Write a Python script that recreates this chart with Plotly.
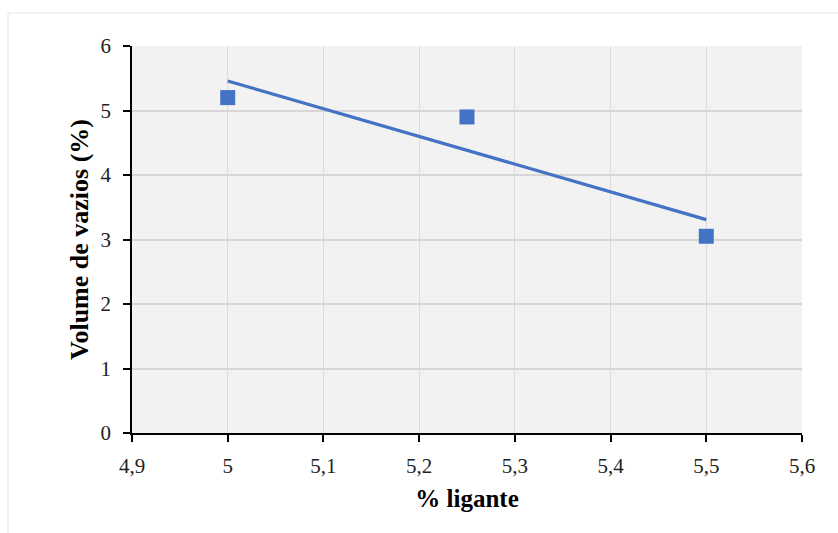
import numpy as np
import plotly.graph_objects as go

# Binder content (%) and measured air voids (%)
ligante = [5.0, 5.25, 5.5]
vazios = [5.2, 4.9, 3.05]

x_ticks = [4.9, 5.0, 5.1, 5.2, 5.3, 5.4, 5.5, 5.6]
y_ticks = [0, 1, 2, 3, 4, 5, 6]

# Linear trend line fitted to the measurements
slope, intercept = np.polyfit(ligante, vazios, 1)
trend_x = [min(ligante), max(ligante)]
trend_y = [slope * v + intercept for v in trend_x]

blue = "#4472c4"
font_family = "Liberation Serif"

fig = go.Figure()
fig.add_trace(go.Scatter(
    x=trend_x, y=trend_y, mode="lines",
    line=dict(color=blue, width=3.2), hoverinfo="skip", showlegend=False,
))
fig.add_trace(go.Scatter(
    x=ligante, y=vazios, mode="markers",
    marker=dict(symbol="square", size=15, color=blue),
    showlegend=False,
))

L, R, T, B = 132, 36, 46, 100
W, H = 838, 533
pw, ph = W - L - R, H - T - B

fig.update_layout(
    width=W, height=H,
    margin=dict(l=L, r=R, t=T, b=B),
    paper_bgcolor="white",
    plot_bgcolor="#f2f2f2",
    separators=", ",
    font=dict(family=font_family, size=21, color="#222222"),
    shapes=[dict(
        type="rect", xref="paper", yref="paper",
        x0=(8 - L) / pw, x1=(W + 5 - L) / pw,
        y0=-(H + 5 - T - ph) / ph, y1=1 + (T - 13) / ph,
        line=dict(color="#e6e6e6", width=1), layer="below",
    )],
)
fig.update_xaxes(
    range=[4.9, 5.6], tickvals=x_ticks,
    showline=True, linecolor="black", linewidth=1.5,
    ticks="outside", ticklen=7, tickcolor="black", tickwidth=1.5,
    ticklabelstandoff=6,
    showgrid=True, gridcolor="#dcdcdc", gridwidth=1,
    zeroline=False,
    tickfont=dict(family=font_family, size=21, color="#222222"),
    title=dict(text="<b>% ligante</b>", standoff=13,
               font=dict(family=font_family, size=25, color="black")),
)
fig.update_yaxes(
    range=[0, 6], tickvals=y_ticks,
    showline=True, linecolor="black", linewidth=1.5,
    ticks="outside", ticklen=7, tickcolor="black", tickwidth=1.5,
    ticklabelstandoff=8,
    showgrid=True, gridcolor="#d6d6d6", gridwidth=2,
    zeroline=False,
    tickfont=dict(family=font_family, size=21, color="#222222"),
    title=dict(text="<b>Volume de vazios (%)</b>", standoff=4,
               font=dict(family=font_family, size=26, color="black")),
)

fig.write_html("out.html")
